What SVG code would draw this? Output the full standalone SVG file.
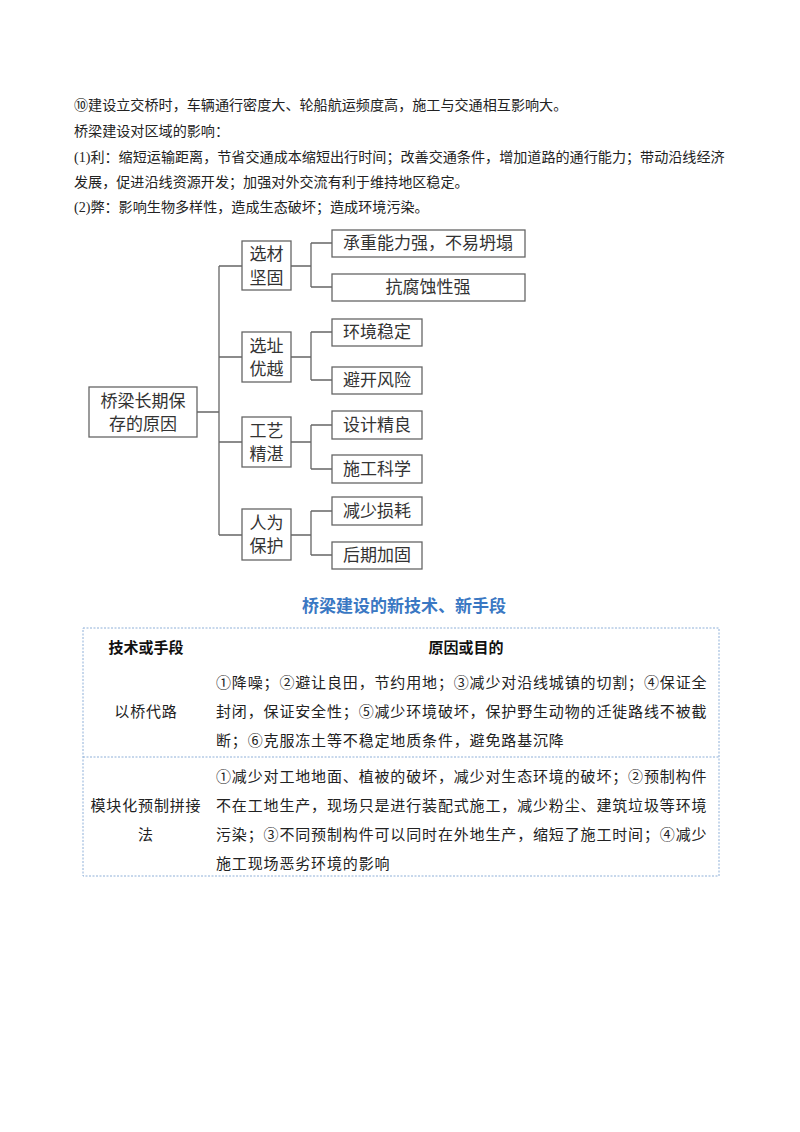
<svg xmlns="http://www.w3.org/2000/svg" width="800" height="1132" viewBox="0 0 800 1132">
<style>
.p{font-family:"Liberation Serif","Noto Sans CJK SC",serif;font-size:14.1px;fill:#222}
.b{fill:#fff;stroke:#666;stroke-width:1.3}
.t{font-family:"Noto Sans CJK SC",sans-serif;font-size:17px;fill:#333;text-anchor:middle}
.c{fill:none;stroke:#666;stroke-width:1.3}
.tb{font-family:"Noto Sans CJK SC",sans-serif;font-size:15px;letter-spacing:0.85px;fill:#222}
.h{font-family:"Noto Sans CJK SC",sans-serif;font-size:15px;font-weight:bold;fill:#111;text-anchor:middle}
.d{stroke:#8fb0d8;stroke-width:1;stroke-dasharray:2 1.5;fill:none}
</style>
<rect width="800" height="1132" fill="#fff"/>
<g id="intro">
<text class="p" x="74" y="110">⑩建设立交桥时，车辆通行密度大、轮船航运频度高，施工与交通相互影响大。</text>
<text class="p" x="74" y="136">桥梁建设对区域的影响：</text>
<text class="p" x="74" y="162">(1)利：缩短运输距离，节省交通成本缩短出行时间；改善交通条件，增加道路的通行能力；带动沿线经济</text>
<text class="p" x="74" y="187">发展，促进沿线资源开发；加强对外交流有利于维持地区稳定。</text>
<text class="p" x="74" y="212">(2)弊：影响生物多样性，造成生态破坏；造成环境污染。</text>
</g>
<g id="connectors">
<path class="c" d="M197 412H219M219 266V535M219 266H242M219 357H242M219 442H242M219 535H242"/>
<path class="c" d="M291 266H311M311 243V287M311 243H332M311 287H332"/>
<path class="c" d="M291 357H311M311 332V380M311 332H332M311 380H332"/>
<path class="c" d="M291 442H311M311 425V469M311 425H332M311 469H332"/>
<path class="c" d="M291 535H311M311 511V555M311 511H332M311 555H332"/>
</g>
<g id="root"><rect class="b" x="89" y="387" width="108" height="50"/><text class="t" x="143" y="407">桥梁长期保</text><text class="t" x="143" y="430">存的原因</text></g>
<g id="m1"><rect class="b" x="242" y="241" width="49" height="49"/><text class="t" x="266.5" y="260">选材</text><text class="t" x="266.5" y="284">坚固</text></g>
<g id="m2"><rect class="b" x="242" y="332" width="49" height="50"/><text class="t" x="266.5" y="352">选址</text><text class="t" x="266.5" y="375">优越</text></g>
<g id="m3"><rect class="b" x="242" y="417" width="49" height="50"/><text class="t" x="266.5" y="437">工艺</text><text class="t" x="266.5" y="460">精湛</text></g>
<g id="m4"><rect class="b" x="242" y="509" width="49" height="51"/><text class="t" x="266.5" y="529">人为</text><text class="t" x="266.5" y="552">保护</text></g>
<g id="l1"><rect class="b" x="332" y="230" width="193" height="27"/><text class="t" x="428" y="249">承重能力强，不易坍塌</text></g>
<g id="l2"><rect class="b" x="332" y="274" width="193" height="27"/><text class="t" x="428" y="293">抗腐蚀性强</text></g>
<g id="l3"><rect class="b" x="332" y="319" width="90" height="27"/><text class="t" x="377" y="338">环境稳定</text></g>
<g id="l4"><rect class="b" x="332" y="367" width="90" height="27"/><text class="t" x="377" y="386">避开风险</text></g>
<g id="l5"><rect class="b" x="332" y="411" width="90" height="28"/><text class="t" x="377" y="431">设计精良</text></g>
<g id="l6"><rect class="b" x="332" y="455" width="90" height="28"/><text class="t" x="377" y="475">施工科学</text></g>
<g id="l7"><rect class="b" x="332" y="497" width="90" height="28"/><text class="t" x="377" y="517">减少损耗</text></g>
<g id="l8"><rect class="b" x="332" y="542" width="90" height="27"/><text class="t" x="377" y="561">后期加固</text></g>
<g id="table">
<text x="404" y="612" text-anchor="middle" font-family="Noto Sans CJK SC,sans-serif" font-size="17" font-weight="bold" fill="#3a78c3">桥梁建设的新技术、新手段</text>
<rect class="d" x="83" y="628" width="636" height="248"/>
<line class="d" x1="83" y1="757" x2="719" y2="757"/>
<text class="h" x="146" y="653">技术或手段</text>
<text class="h" x="466" y="653">原因或目的</text>
<text class="tb" x="146" y="717" text-anchor="middle">以桥代路</text>
<text class="tb" x="216" y="688">①降噪；②避让良田，节约用地；③减少对沿线城镇的切割；④保证全</text>
<text class="tb" x="216" y="717">封闭，保证安全性；⑤减少环境破坏，保护野生动物的迁徙路线不被截</text>
<text class="tb" x="216" y="746">断；⑥克服冻土等不稳定地质条件，避免路基沉降</text>
<text class="tb" x="146" y="811" text-anchor="middle">模块化预制拼接</text>
<text class="tb" x="146" y="840" text-anchor="middle">法</text>
<text class="tb" x="216" y="782">①减少对工地地面、植被的破坏，减少对生态环境的破坏；②预制构件</text>
<text class="tb" x="216" y="811">不在工地生产，现场只是进行装配式施工，减少粉尘、建筑垃圾等环境</text>
<text class="tb" x="216" y="840">污染；③不同预制构件可以同时在外地生产，缩短了施工时间；④减少</text>
<text class="tb" x="216" y="869">施工现场恶劣环境的影响</text>
</g>
</svg>
